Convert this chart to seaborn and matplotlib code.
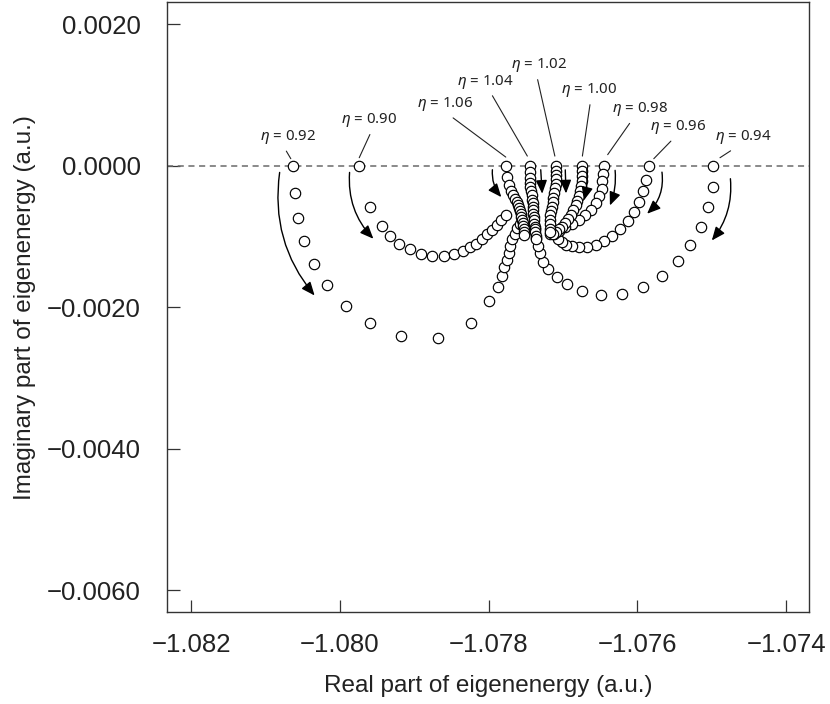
import numpy as np
import pandas as pd
import matplotlib
matplotlib.use("Agg")
import matplotlib.pyplot as plt
import seaborn as sns
from matplotlib.patches import FancyArrowPatch

# ---------------- data ----------------
eta_values = ["0.92", "0.90", "0.94", "0.96", "0.98", "1.00", "1.02", "1.04", "1.06"]

re_092 = [-1.08063, -1.08060, -1.08056, -1.08048, -1.08035, -1.08017, -1.07992, -1.07959,
          -1.07918, -1.07868, -1.07824, -1.07800, -1.07788, -1.07782, -1.07779, -1.07776,
          -1.07773, -1.07771, -1.07768, -1.07765, -1.07762, -1.07758]
im_092 = [0.0, -0.00039, -0.00074, -0.00107, -0.00139, -0.00169, -0.00198, -0.00223,
          -0.00241, -0.00244, -0.00223, -0.00191, -0.00172, -0.00156, -0.00143, -0.00133,
          -0.00123, -0.00113, -0.00104, -0.00096, -0.00088, -0.00082]

re_090 = [-1.07974, -1.07959, -1.07944, -1.07933, -1.07920, -1.07906, -1.07891, -1.07876,
          -1.07860, -1.07847, -1.07835, -1.07825, -1.07817, -1.07809, -1.07802, -1.07795,
          -1.07789, -1.07783, -1.07777]
im_090 = [0.0, -0.00059, -0.00085, -0.00099, -0.00110, -0.00118, -0.00125, -0.00128,
          -0.00128, -0.00125, -0.00120, -0.00115, -0.00110, -0.00104, -0.00097, -0.00091,
          -0.00084, -0.00077, -0.00070]

re_094 = [-1.07498, -1.07499, -1.07505, -1.07515, -1.07529, -1.07546, -1.07567, -1.07593,
          -1.07621, -1.07649, -1.07675, -1.07695, -1.07708, -1.07720, -1.07727, -1.07731,
          -1.07734, -1.07736, -1.07738]
im_094 = [0.0, -0.00030, -0.00059, -0.00086, -0.00112, -0.00135, -0.00156, -0.00172,
          -0.00181, -0.00183, -0.00177, -0.00167, -0.00157, -0.00146, -0.00136, -0.00124,
          -0.00113, -0.00102, -0.00090]

re_096 = [-1.07584, -1.07589, -1.07593, -1.07598, -1.07605, -1.07613, -1.07623, -1.07634,
          -1.07645, -1.07656, -1.07668, -1.07679, -1.07688, -1.07696, -1.07702, -1.07707,
          -1.07712]
im_096 = [0.0, -0.00020, -0.00036, -0.00051, -0.00066, -0.00078, -0.00090, -0.00100,
          -0.00106, -0.00112, -0.00115, -0.00115, -0.00114, -0.00112, -0.00108, -0.00103,
          -0.00097]

re_098 = [-1.07645, -1.07646, -1.07647, -1.07648, -1.07652, -1.07656, -1.07662, -1.07670,
          -1.07679, -1.07688, -1.07697, -1.07705, -1.07713, -1.07718]
im_098 = [0.0, -0.00012, -0.00022, -0.00033, -0.00043, -0.00053, -0.00062, -0.00070,
          -0.00077, -0.00082, -0.00087, -0.00092, -0.00095, -0.00097]

re_100 = [-1.07674, -1.07674, -1.07675, -1.07675, -1.07676, -1.07677, -1.07679, -1.07681,
          -1.07683, -1.07686, -1.07689, -1.07693, -1.07697, -1.07701, -1.07705, -1.07709,
          -1.07714]
im_100 = [0.0, -0.00007, -0.00014, -0.00021, -0.00029, -0.00036, -0.00043, -0.00050,
          -0.00056, -0.00063, -0.00069, -0.00075, -0.00081, -0.00086, -0.00090, -0.00094,
          -0.00096]

re_102 = [-1.07709, -1.07709, -1.07709, -1.07709, -1.07710, -1.07711, -1.07712, -1.07713,
          -1.07714, -1.07715, -1.07716, -1.07717, -1.07718, -1.07718, -1.07718, -1.07718]
im_102 = [0.0, -0.00007, -0.00013, -0.00019, -0.00026, -0.00032, -0.00038, -0.00045,
          -0.00051, -0.00058, -0.00064, -0.00070, -0.00077, -0.00083, -0.00089, -0.00094]

re_104 = [-1.07744, -1.07744, -1.07744, -1.07744, -1.07744, -1.07743, -1.07742, -1.07742,
          -1.07741, -1.07741, -1.07740, -1.07740, -1.07739, -1.07739, -1.07739, -1.07738,
          -1.07738, -1.07738, -1.07737, -1.07737]
im_104 = [0.0, -0.00009, -0.00017, -0.00024, -0.00030, -0.00036, -0.00042, -0.00048,
          -0.00053, -0.00058, -0.00063, -0.00068, -0.00073, -0.00077, -0.00082, -0.00086,
          -0.00090, -0.00094, -0.00099, -0.00103]

re_106 = [-1.07777, -1.07776, -1.07773, -1.07770, -1.07767, -1.07764, -1.07762, -1.07760,
          -1.07759, -1.07758, -1.07757, -1.07756, -1.07755, -1.07754, -1.07754, -1.07753,
          -1.07753, -1.07752]
im_106 = [0.0, -0.00016, -0.00027, -0.00036, -0.00042, -0.00047, -0.00051, -0.00055,
          -0.00060, -0.00064, -0.00068, -0.00072, -0.00077, -0.00081, -0.00085, -0.00089,
          -0.00094, -0.00098]

series_re = [re_092, re_090, re_094, re_096, re_098, re_100, re_102, re_104, re_106]
series_im = [im_092, im_090, im_094, im_096, im_098, im_100, im_102, im_104, im_106]

# label annotations: text centre and leader-line end (a.u.)
label_text_re = [-1.08070, -1.07961, -1.07458, -1.07545, -1.07596, -1.07665, -1.07732, -1.07805, -1.07859]
label_text_im = [0.000405, 0.000641, 0.000400, 0.000542, 0.000796, 0.001065, 0.001419, 0.001188, 0.000867]
label_end_re = [-1.08066, -1.07974, -1.07489, -1.07578, -1.07640, -1.07674, -1.07711, -1.07748, -1.07777]
label_end_im = [0.000099, 0.000113, 0.000113, 0.000099, 0.000156, 0.000136, 0.000136, 0.000136, 0.000122]
label_relx = [0.42, 0.56, 0.40, 0.45, 0.37, 0.53, 0.45, 0.58, 0.54]

# direction arrows (start -> end, a.u.) and curvature
arrow_start_re = [-1.08081, -1.07987, -1.07475, -1.07567, -1.07630, -1.07668, -1.07697, -1.07730, -1.07795]
arrow_start_im = [-0.000095, -0.000095, -0.000184, -0.000091, -0.000066, -0.000052, -0.000059, -0.000057, -0.000057]
arrow_end_re = [-1.08034, -1.07955, -1.07500, -1.07587, -1.07637, -1.07672, -1.07696, -1.07728, -1.07783]
arrow_end_im = [-0.001835, -0.001033, -0.001057, -0.000679, -0.000562, -0.000491, -0.000392, -0.000396, -0.000444]
arrow_rad = [0.22, 0.22, -0.2, -0.25, -0.12, -0.08, 0.0, 0.0, 0.2]

x_ticks = [-1.082, -1.080, -1.078, -1.076, -1.074]
x_ticklabels = ["\u22121.082", "\u22121.080", "\u22121.078", "\u22121.076", "\u22121.074"]
y_ticks = [0.0020, 0.0, -0.0020, -0.0040, -0.0060]
y_ticklabels = ["0.0020", "0.0000", "\u22120.0020", "\u22120.0040", "\u22120.0060"]

# ---------------- figure ----------------
sns.set_style("ticks")
plt.rcParams["font.family"] = ["Liberation Sans", "DejaVu Sans"]
plt.rcParams["mathtext.fontset"] = "custom"
plt.rcParams["mathtext.it"] = "Noto Sans:italic"
plt.rcParams["mathtext.rm"] = "Noto Sans"

fig = plt.figure(figsize=(8.3, 7.04), dpi=100)
ax = fig.add_axes([0.2016, 0.1307, 0.7734, 0.866])

ax.axhline(0.0, color="#6a6a6a", lw=1.1, ls=(0, (4.0, 3.0)), zorder=1)

frames = []
for eta, re_, im_ in zip(eta_values, series_re, series_im):
    frames.append(pd.DataFrame({"re": re_, "im": im_, "eta": eta}))
df = pd.concat(frames, ignore_index=True)

for eta in eta_values:
    sub = df[df["eta"] == eta]
    sns.scatterplot(data=sub, x="re", y="im", ax=ax, marker="o", s=56,
                    facecolor="white", edgecolor="black", linewidth=0.85,
                    legend=False, zorder=3)

for lab, tx, ty, ex, ey, rx in zip(eta_values, label_text_re, label_text_im,
                                   label_end_re, label_end_im, label_relx):
    ax.annotate(r"$\mathit{\eta}$ = " + lab,
                xy=(ex, ey), xytext=(tx, ty), textcoords="data",
                ha="center", va="center", fontsize=10.8, family=["Noto Sans", "DejaVu Sans"],
                color="#222222",
                arrowprops=dict(arrowstyle="-", lw=0.8, color="#222222",
                                shrinkA=1.5, shrinkB=0, relpos=(rx, 0.0)),
                zorder=4)

for sx, sy, ex, ey, rad in zip(arrow_start_re, arrow_start_im, arrow_end_re, arrow_end_im, arrow_rad):
    arr = FancyArrowPatch((sx, sy), (ex, ey), transform=ax.transData,
                          arrowstyle="-|>,head_length=0.95,head_width=0.4",
                          mutation_scale=8.5, connectionstyle=f"arc3,rad={rad}",
                          color="black", lw=1.0, shrinkA=0, shrinkB=0, zorder=4)
    ax.add_patch(arr)

ax.set_xlim(-1.08232, -1.07369)
ax.set_ylim(-0.00631, 0.00231)
ax.set_xticks(x_ticks)
ax.set_xticklabels(x_ticklabels)
ax.set_yticks(y_ticks)
ax.set_yticklabels(y_ticklabels)
ax.tick_params(axis="both", direction="in", length=9, width=0.9, color="#333333",
               labelsize=18.5, labelcolor="#222222")
ax.tick_params(axis="x", pad=15)
ax.tick_params(axis="y", pad=19)
for sp in ax.spines.values():
    sp.set_visible(True)
    sp.set_color("#333333")
    sp.set_linewidth(1.0)

ax.set_xlabel("Real part of eigenenergy (a.u.)", fontsize=17.5, color="#222222", labelpad=13)
ax.set_ylabel("Imaginary part of eigenenergy (a.u.)", fontsize=17.5, color="#222222", labelpad=8)

fig.savefig("out.png", dpi=100)
